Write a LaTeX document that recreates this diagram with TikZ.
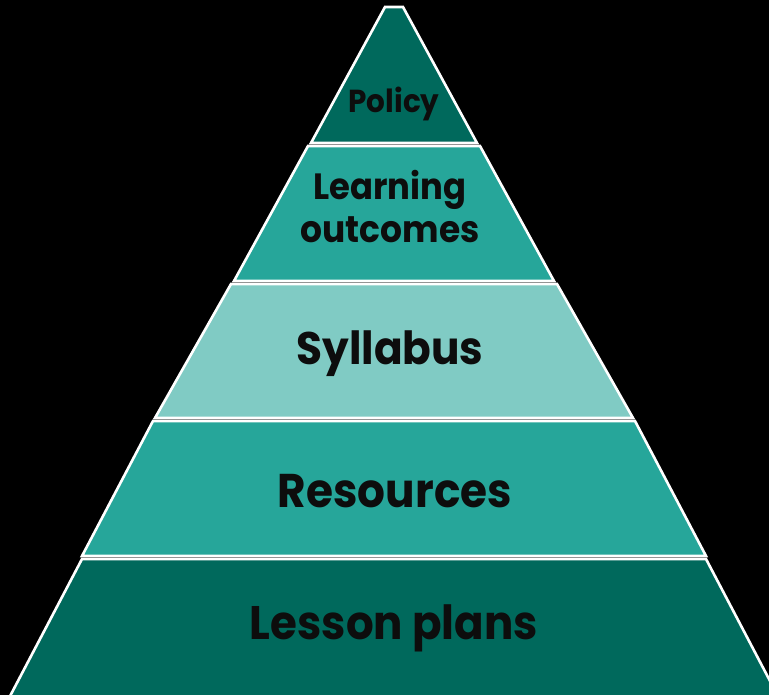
\documentclass[tikz,border=0pt]{standalone}
\usepackage{fontspec}
\setmainfont{Poppins}
\usepackage{graphicx}
\definecolor{tdark}{HTML}{00695C}
\definecolor{tmid}{HTML}{26A69A}
\definecolor{tlight}{HTML}{80CBC4}
\definecolor{ink}{HTML}{0D0D0D}
\newcommand{\fitw}[2]{\scalebox{1}[1.08]{\resizebox{#1}{!}{#2}}}
\tikzset{
  layer/.style={draw=white, line width=2.6pt, line join=miter},
  lbl/.style={text=ink, font=\bfseries, inner sep=0pt, align=center}
}
\begin{document}
\begin{tikzpicture}[x=1pt,y=-1pt]
\useasboundingbox (0,0) rectangle (769,695);
\fill[black] (0,0) rectangle (769,695);
\clip (0,0) rectangle (769,695);
% layers
\draw[layer, fill=tdark]  (385,7) -- (403,7) -- (477,143) -- (311,143) -- cycle;
\draw[layer, fill=tmid]   (308,146) -- (480,146) -- (554,281) -- (234,281) -- cycle;
\draw[layer, fill=tlight] (231,284) -- (557,284) -- (633,418) -- (155,418) -- cycle;
\draw[layer, fill=tmid]   (153,421) -- (635,421) -- (706,556) -- (82,556) -- cycle;
\draw[layer, fill=tdark]  (82,559) -- (706,559) -- (780,700) -- (8,700) -- cycle;
% labels
\node[lbl] (policy) at (394,104) {\fitw{91pt}{Policy}};
\node[lbl] (lo1) at (390,190) {\fitw{153pt}{Learning}};
\node[lbl] (lo2) at (390,230) {\fitw{179pt}{outcomes}};
\node[lbl] (syl) at (390,354) {\fitw{187pt}{Syllabus}};
\node[lbl] (res) at (395,491) {\fitw{234pt}{Resources}};
\node[lbl] (les) at (394,628) {\fitw{288pt}{Lesson plans}};
\end{tikzpicture}
\end{document}
